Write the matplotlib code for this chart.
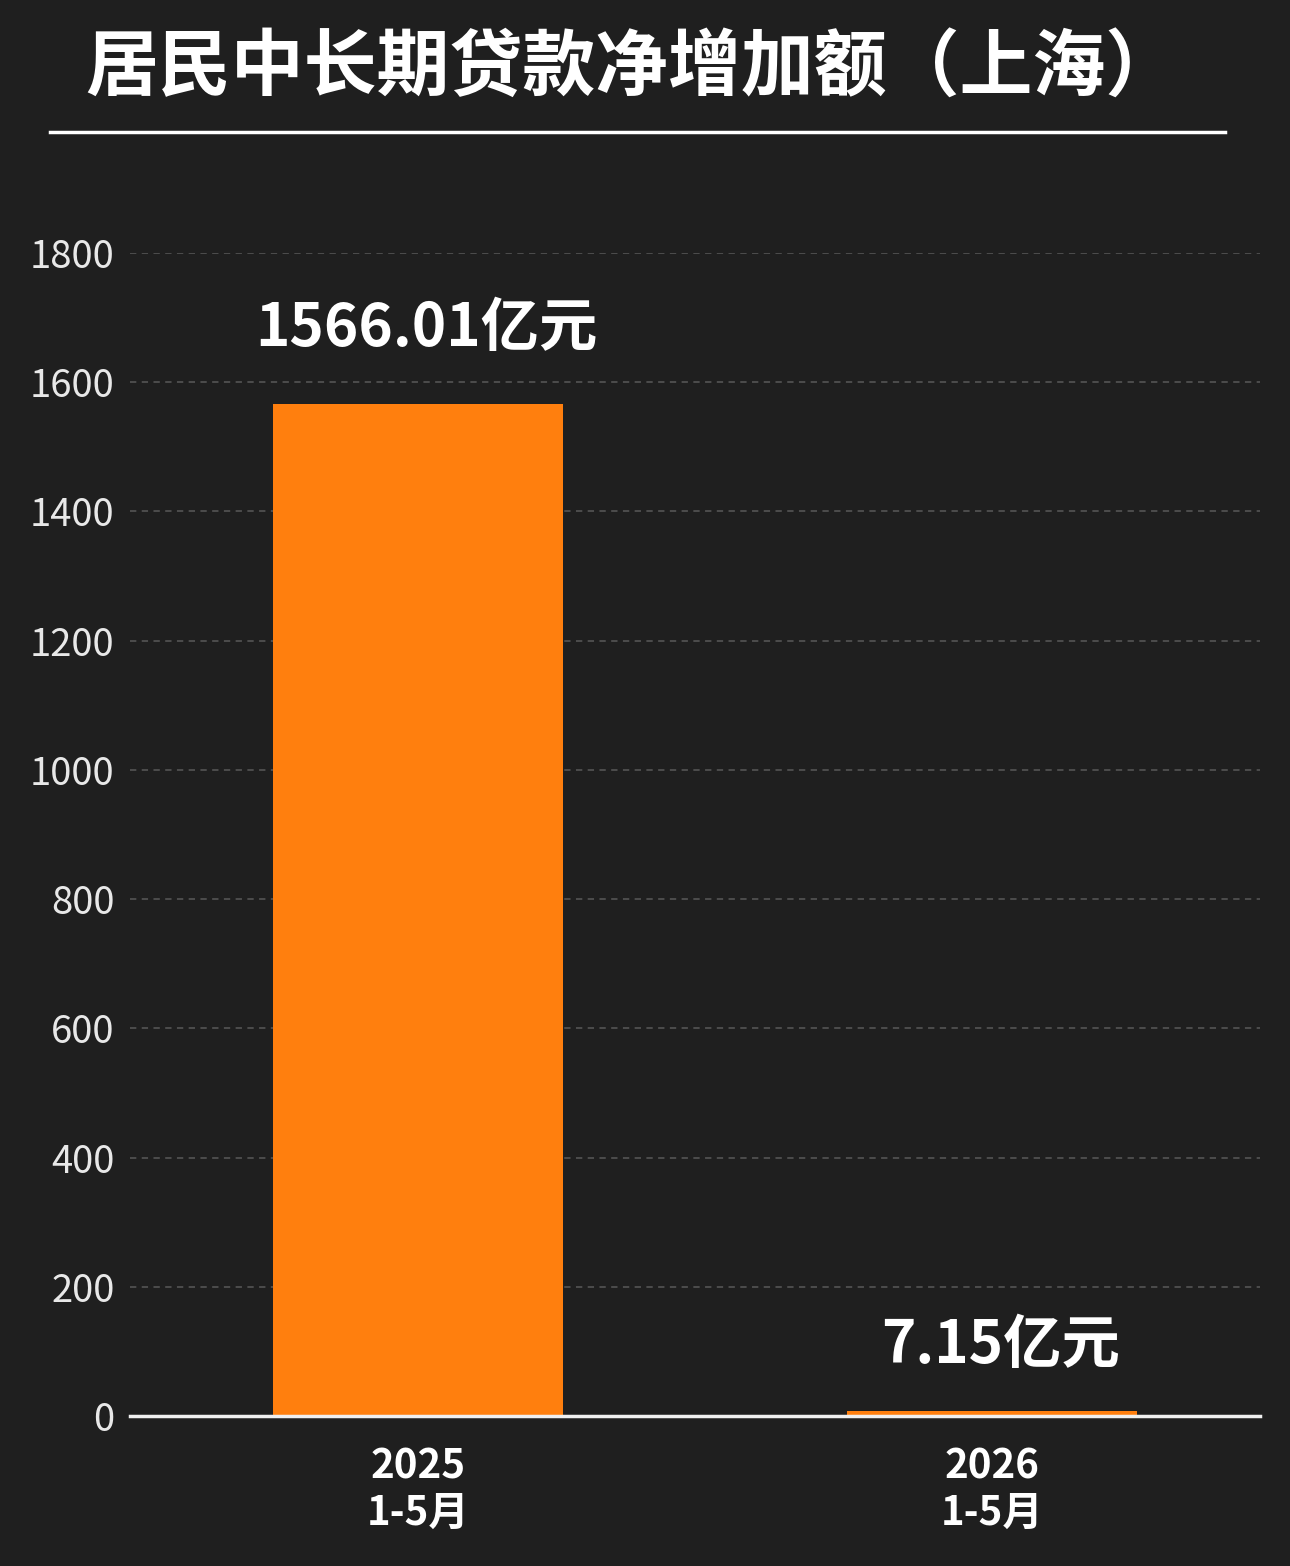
import matplotlib
matplotlib.use("Agg")
import matplotlib.pyplot as plt
from matplotlib.lines import Line2D

plt.rcParams['font.family'] = ['Noto Sans CJK SC', 'DejaVu Sans']

title = "居民中长期贷款净增加额（上海）"
categories = ["2025\n1-5月", "2026\n1-5月"]
values = [1566.01, 7.15]
value_labels = ["1566.01亿元", "7.15亿元"]
yticks = [0, 200, 400, 600, 800, 1000, 1200, 1400, 1600, 1800]

bg = "#1f1f1f"
bar_color = "#ff7f0e"

fig = plt.figure(figsize=(12.9, 15.66), dpi=100, facecolor=bg)
ax = fig.add_axes([130/1290, 1 - 1416/1566, 1130/1290, (1416-253)/1566])
ax.set_facecolor(bg)

x = list(range(len(categories)))
ax.bar(x, values, width=0.505, color=bar_color, zorder=2)
ax.set_xlim(-0.502, 1.467)
ax.set_ylim(0, 1800)
ax.set_yticks(yticks)
ax.set_yticklabels([str(t) for t in yticks])
ax.set_xticks(x)
ax.set_xticklabels(categories)

for lab in ax.get_yticklabels():
    lab.set_fontsize(27.5)
    lab.set_color("#e8e8e8")
for lab in ax.get_xticklabels():
    lab.set_fontsize(29)
    lab.set_fontweight("bold")
    lab.set_color("white")
    lab.set_linespacing(1.15)

ax.tick_params(axis='y', length=0, pad=11)
ax.tick_params(axis='x', length=0, pad=22)

ax.yaxis.grid(True, color="#505050", linestyle=(0, (3.5, 3)), linewidth=1.3, zorder=0)
ax.set_axisbelow(True)
for s in ['top', 'right', 'left']:
    ax.spines[s].set_visible(False)
ax.spines['bottom'].set_color("#f0f0f0")
ax.spines['bottom'].set_linewidth(2.5)
ax.spines['bottom'].set_zorder(3)

offsets = [42, 35]
for xi, v, lab, off in zip(x, values, value_labels, offsets):
    ax.annotate(lab, xy=(xi, v), xytext=(6, off), textcoords='offset points',
                ha='center', va='baseline', fontsize=42, fontweight='bold',
                color='white', zorder=4)

fig.text(85/1290, 1 - 69/1566, title, ha='left', va='center', fontsize=52.5,
         fontweight='black', color='white')
fig.add_artist(Line2D([50/1290, 1225/1290], [1 - 132/1566, 1 - 132/1566],
                      color='white', linewidth=2.5, transform=fig.transFigure))

fig.savefig("out.png", dpi=100, facecolor=bg)
